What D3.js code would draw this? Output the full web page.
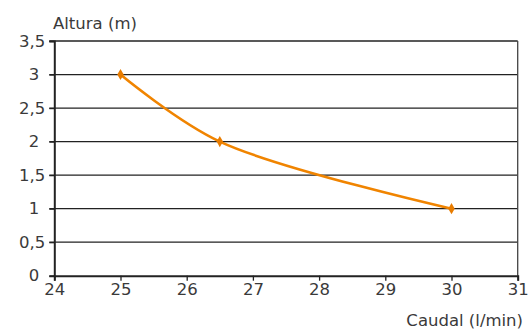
<!DOCTYPE html>
<html><head><meta charset="utf-8">
<script src="https://cdn.jsdelivr.net/npm/d3@7"></script>
<style>body{margin:0;background:#fff}svg{display:block}text{font-family:"DejaVu Sans",sans-serif;fill:#3a3a3a}</style>
</head><body><svg id="c" width="529" height="329"></svg>
<script>
const caudal = [25, 26.5, 30];
const altura = [3, 2, 1];
const xTicks = [24,25,26,27,28,29,30,31];
const yTicks = [0,0.5,1,1.5,2,2.5,3,3.5];
const xTitle = "Caudal (l/min)";
const yTitle = "Altura (m)";
const fmt = d => String(d).replace(".", ",");

const svg = d3.select("#c");
const m = {l:54.3, r:517.7, t:41, b:275.7};
const x = d3.scaleLinear().domain([24,31]).range([m.l, m.r]);
const y = d3.scaleLinear().domain([0,3.5]).range([m.b, m.t]);
const FS = 16.5;

// gridlines
svg.append("g").selectAll("line").data(yTicks.filter(d=>d>0)).join("line")
  .attr("x1", m.l-5).attr("x2", m.r).attr("y1", d=>y(d)).attr("y2", d=>y(d))
  .attr("stroke","#222").attr("stroke-width",1.3);
// right border
svg.append("line").attr("x1",m.r).attr("x2",m.r).attr("y1",m.t).attr("y2",m.b)
  .attr("stroke","#444").attr("stroke-width",1.3);

// y axis
const ya = svg.append("g").attr("transform",`translate(${m.l},0)`)
  .call(d3.axisLeft(y).tickValues(yTicks).tickFormat(fmt).tickSize(5).tickPadding(5));
ya.select(".domain").attr("stroke","#222").attr("stroke-width",2);
ya.selectAll(".tick line").attr("stroke","#222").attr("stroke-width",1.3);
ya.selectAll("text").attr("font-size",FS).attr("fill","#3a3a3a")
  .style("font-family","'DejaVu Sans',sans-serif")
  .attr("x", d => Number.isInteger(d) ? -15 : -9);

// x axis
const xa = svg.append("g").attr("transform",`translate(0,${m.b})`)
  .call(d3.axisBottom(x).tickValues(xTicks).tickFormat(fmt).tickSize(5).tickPadding(3));
xa.select(".domain").attr("stroke","#222").attr("stroke-width",2);
xa.selectAll(".tick line").attr("stroke","#222").attr("stroke-width",1.3);
xa.selectAll("text").attr("font-size",FS).attr("fill","#3a3a3a")
  .style("font-family","'DejaVu Sans',sans-serif");

// titles
svg.append("text").attr("x",53).attr("y",29).attr("font-size",FS).text(yTitle);
svg.append("text").attr("x",523).attr("y",326).attr("text-anchor","end").attr("font-size",FS).text(xTitle);

// line
const pts = caudal.map((c,i)=>[c, altura[i]]);
const line = d3.line().x(d=>x(d[0])).y(d=>y(d[1])).curve(d3.curveCatmullRom.alpha(0.5));
svg.append("path").datum(pts).attr("d",line).attr("fill","none")
  .attr("stroke","#F08400").attr("stroke-width",2.6);
svg.append("g").selectAll("path").data(pts).join("path")
  .attr("transform",d=>`translate(${x(d[0])},${y(d[1])})`)
  .attr("d", d3.symbol(d3.symbolDiamond, 36))
  .attr("fill","#E87C00");
</script></body></html>
